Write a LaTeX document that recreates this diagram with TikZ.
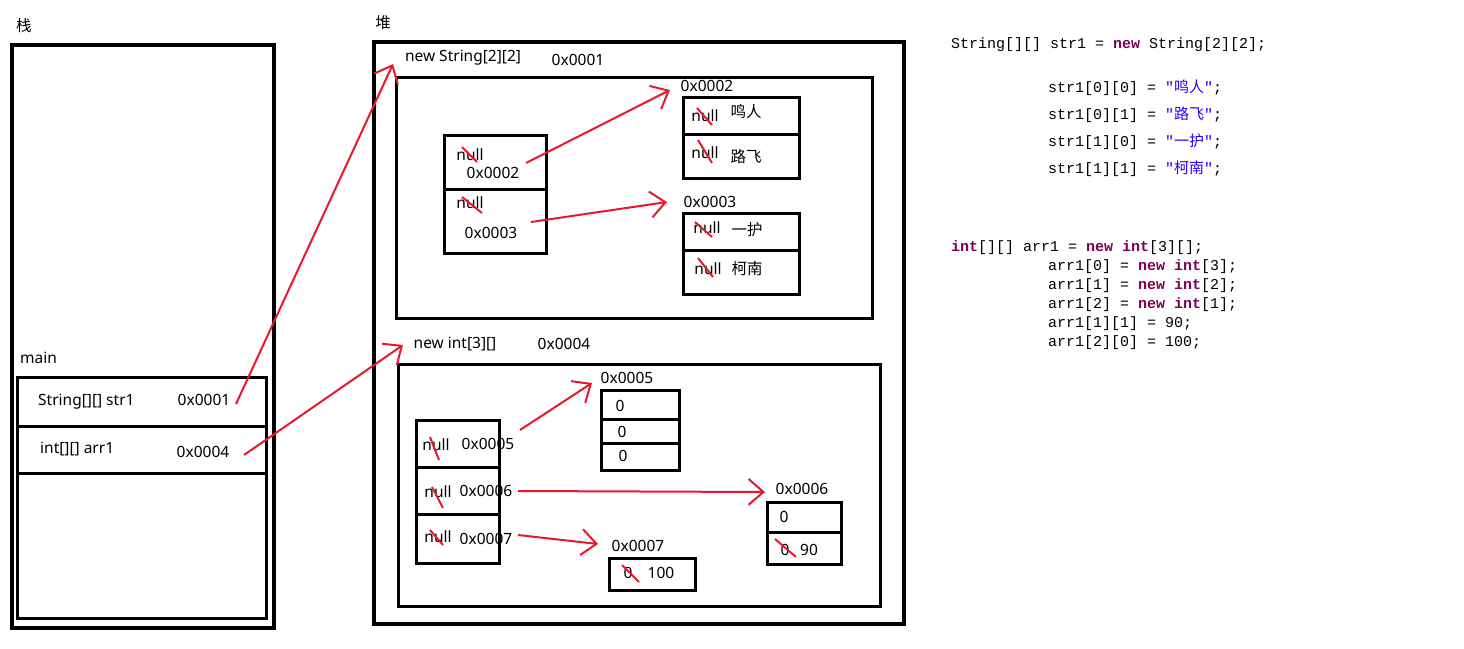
\documentclass[tikz,border=0pt]{standalone}
\usepackage{fontspec}
\setmainfont{Noto Sans}
\newfontfamily\codefont{Liberation Mono}
\newfontfamily\cjk{Noto Sans CJK SC}
\usetikzlibrary{arrows.meta}
\definecolor{redx}{RGB}{230,25,45}
\definecolor{kwc}{RGB}{127,0,85}
\definecolor{strc}{RGB}{42,0,255}
\newcommand\kwd[1]{{\color{kwc}\bfseries #1}}
\newcommand\strv[1]{{\color{strc}"{\cjk #1}"}}
\tikzset{
  frame/.style={draw, line width=4pt, anchor=north west, inner sep=0pt},
  box/.style={draw, line width=3pt, anchor=north west, inner sep=0pt},
  sep/.style={line width=3pt},
  lbl/.style={font=\fontsize{15.5}{17}\selectfont, inner sep=0pt},
  code/.style={font=\codefont\fontsize{15}{17}\selectfont, anchor=west, inner sep=0pt},
  ptr/.style={draw=redx, line width=2pt, -{Straight Barb[length=15pt,width=26pt]}},
  strike/.style={draw=redx, line width=2pt},
}
\begin{document}
\begin{tikzpicture}[x=1pt,y=-1pt]
\fill[white] (0,0) rectangle (1464,648);
\useasboundingbox (0,0) rectangle (1464,648);

% ---------- stack ----------
\node[lbl] (zhan) at (24,26) {\cjk 栈};
\node[frame, minimum width=262pt, minimum height=583pt] (stack) at (10,43) {};
\node[lbl, anchor=west] (main) at (20,358) {main};
\node[box, minimum width=249pt, minimum height=241pt] (mframe) at (16,376) {};
\draw[sep] (mframe.west |- 0,426) -- (mframe.east |- 0,426);
\draw[sep] (mframe.west |- 0,473) -- (mframe.east |- 0,473);
\node[lbl, anchor=west] (vstr) at (38,402) {String[][] str1};
\node[lbl] (vstra) at (204,400) {0x0001};
\node[lbl, anchor=west] (varr) at (40,449) {int[][] arr1};
\node[lbl] (varra) at (203,452) {0x0004};

% ---------- heap ----------
\node[lbl] (dui) at (383,23) {\cjk 堆};
\node[frame, minimum width=530pt, minimum height=582pt] (heap) at (372,40) {};

% String[2][2]
\node[lbl] (tstr) at (463,58) {new String[2][2]};
\node[lbl] (tstra) at (578,60) {0x0001};
\node[box, minimum width=476pt, minimum height=241pt] (sarea) at (395,76) {};
\node[box, minimum width=102pt, minimum height=118pt] (sarr) at (443,134) {};
\draw[sep] (sarr.west |- 0,189) -- (sarr.east |- 0,189);
\node[lbl] (sn1) at (470,155) {null};
\node[lbl] (sa1) at (493,173) {0x0002};
\node[lbl] (sn2) at (470,203) {null};
\node[lbl] (sa2) at (491,233) {0x0003};

\node[lbl] (l2) at (707,86) {0x0002};
\node[box, minimum width=116pt, minimum height=81pt] (b2) at (682,96) {};
\draw[sep] (b2.west |- 0,134) -- (b2.east |- 0,134);
\node[lbl] (b2n1) at (705,116) {null};
\node[lbl] (b2v1) at (746,112) {\cjk 鸣人};
\node[lbl] (b2n2) at (705,153) {null};
\node[lbl] (b2v2) at (746,157) {\cjk 路飞};

\node[lbl] (l3) at (710,202) {0x0003};
\node[box, minimum width=116pt, minimum height=81pt] (b3) at (682,212) {};
\draw[sep] (b3.west |- 0,250) -- (b3.east |- 0,250);
\node[lbl] (b3n1) at (707,228) {null};
\node[lbl] (b3v1) at (747,230) {\cjk 一护};
\node[lbl] (b3n2) at (708,269) {null};
\node[lbl] (b3v2) at (747,269) {\cjk 柯南};

% int[3][]
\node[lbl] (tint) at (455,344) {new int[3][]};
\node[lbl] (tinta) at (564,344) {0x0004};
\node[box, minimum width=482pt, minimum height=242pt] (iarea) at (397,363) {};
\node[box, minimum width=83pt, minimum height=143pt] (iarr) at (415,419) {};
\draw[sep] (iarr.west |- 0,467) -- (iarr.east |- 0,467);
\draw[sep] (iarr.west |- 0,514) -- (iarr.east |- 0,514);
\node[lbl] (in1) at (436,445) {null};
\node[lbl] (ia1) at (488,444) {0x0005};
\node[lbl] (in2) at (438,492) {null};
\node[lbl] (ia2) at (486,491) {0x0006};
\node[lbl] (in3) at (438,537) {null};
\node[lbl] (ia3) at (486,539) {0x0007};

\node[lbl] (l5) at (627,378) {0x0005};
\node[box, minimum width=78pt, minimum height=80pt] (b5) at (600,389) {};
\draw[sep] (b5.west |- 0,419) -- (b5.east |- 0,419);
\draw[sep] (b5.west |- 0,443) -- (b5.east |- 0,443);
\node[lbl] (b5v1) at (620,406) {0};
\node[lbl] (b5v2) at (622,432) {0};
\node[lbl] (b5v3) at (623,456) {0};

\node[lbl] (l6) at (802,489) {0x0006};
\node[box, minimum width=74pt, minimum height=62pt] (b6) at (766,501) {};
\draw[sep] (b6.west |- 0,532) -- (b6.east |- 0,532);
\node[lbl] (b6v1) at (784,517) {0};
\node[lbl] (b6o2) at (785,550) {0};
\node[lbl] (b6v2) at (809,550) {90};

\node[lbl] (l7) at (638,546) {0x0007};
\node[box, minimum width=86pt, minimum height=32pt] (b7) at (608,557) {};
\node[lbl] (b7o1) at (628,573) {0};
\node[lbl] (b7v1) at (661,573) {100};

% ---------- strikes ----------
\draw[strike] (462,147) -- (477,162);
\draw[strike] (462,197) -- (482,213);
\draw[strike] (697,108) -- (712,125);
\draw[strike] (698,140) -- (712,163);
\draw[strike] (695,222) -- (712,237);
\draw[strike] (698,258) -- (713,277);
\draw[strike] (430,437) -- (439,460);
\draw[strike] (432,487) -- (443,508);
\draw[strike] (430,530) -- (443,545);
\draw[strike] (775,539) -- (796,557);
\draw[strike] (622,565) -- (639,582);

% ---------- pointers ----------
\coordinate (p1s) at (236,404); \coordinate (p1e) at (393,64);
\coordinate (p2s) at (244,455); \coordinate (p2e) at (403,345);
\coordinate (p3s) at (526,163); \coordinate (p3e) at (670,90);
\coordinate (p4s) at (531,222); \coordinate (p4e) at (667,202);
\coordinate (p5s) at (520,430); \coordinate (p5e) at (592,383);
\coordinate (p6s) at (518,491); \coordinate (p6e) at (765,492);
\coordinate (p7s) at (518,535); \coordinate (p7e) at (598,544);
\draw[ptr] (p1s) -- (p1e);
\draw[ptr] (p2s) -- (p2e);
\draw[ptr] (p3s) -- (p3e);
\draw[ptr] (p4s) -- (p4e);
\draw[ptr] (p5s) -- (p5e);
\draw[ptr] (p6s) -- (p6e);
\draw[ptr] (p7s) -- (p7e);

% ---------- code ----------
\node[code] (c1) at (951,45) {String[][] str1 = \kwd{new} String[2][2];};
\node[code] (c2) at (1048,88) {str1[0][0] = \strv{鸣人};};
\node[code] (c3) at (1048,115) {str1[0][1] = \strv{路飞};};
\node[code] (c4) at (1048,142) {str1[1][0] = \strv{一护};};
\node[code] (c5) at (1048,169) {str1[1][1] = \strv{柯南};};
\node[code] (c6) at (951,248) {\kwd{int}[][] arr1 = \kwd{new} \kwd{int}[3][];};
\node[code] (c7) at (1048,267) {arr1[0] = \kwd{new} \kwd{int}[3];};
\node[code] (c8) at (1048,286) {arr1[1] = \kwd{new} \kwd{int}[2];};
\node[code] (c9) at (1048,305) {arr1[2] = \kwd{new} \kwd{int}[1];};
\node[code] (c10) at (1048,324) {arr1[1][1] = 90;};
\node[code] (c11) at (1048,343) {arr1[2][0] = 100;};
\end{tikzpicture}
\end{document}
